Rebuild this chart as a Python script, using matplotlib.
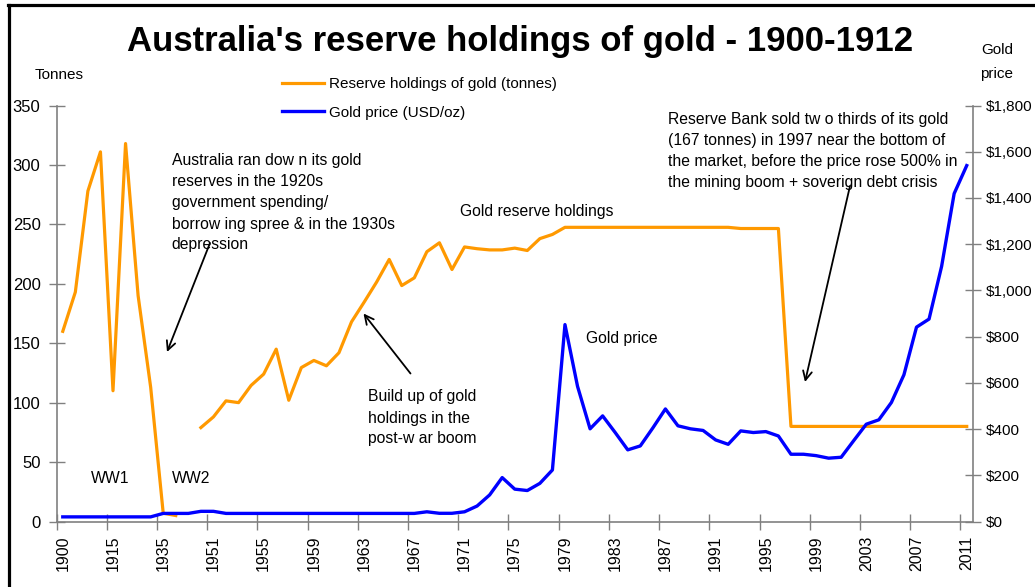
import numpy as np
import matplotlib
matplotlib.use('Agg')
import matplotlib.pyplot as plt
from matplotlib.lines import Line2D
from matplotlib.ticker import FuncFormatter

plt.rcParams['font.family'] = ['Liberation Sans', 'DejaVu Sans']

# ---------------- data ----------------
categories = ['1900', '1904', '1908', '1912', '1915', '1920', '1925', '1930',
              '1935', '1940', '1945', '1950'] + [str(y) for y in range(1951, 2012)]

reserves_tonnes = [160, 193, 278, 311, 110, 318, 190, 113, 7, 5, np.nan, 79,
                   88, 101.5, 100, 114.5, 124, 145, 102, 129.5, 135.5, 131, 142,
                   168, 184.5, 201.5, 220.5, 198.5, 205, 227, 234.5, 212, 231,
                   229.5, 228.5, 228.5, 230, 228, 238, 241.5, 247.5,
                   247.5, 247.5, 247.5, 247.5, 247.5, 247.5, 247.5, 247.5, 247.5,
                   247.5, 247.5, 247.5, 247.5,
                   246.5, 246.5, 246.5, 246.5,
                   80, 80, 80, 80, 80, 80, 80, 80, 80, 80, 80, 80, 80, 80, 80]

gold_price_usd = [20, 20, 20, 20, 20, 20, 20, 20, 35, 35, 35, 44, 44,
                  35, 35, 35, 35, 35, 35, 35, 35, 35, 35, 35, 35, 35, 35, 35, 35,
                  42, 35.5, 35.5, 42, 67, 115, 190, 140, 134, 165, 223, 852,
                  585, 401, 457, 385, 310, 327, 405, 487, 414, 401, 394, 353,
                  334, 392, 385, 389, 370, 291, 291, 285, 274, 278, 350, 421,
                  440, 515, 635, 841, 876, 1104, 1419, 1540]

left_ticks = [0, 50, 100, 150, 200, 250, 300, 350]
right_ticks = [0, 200, 400, 600, 800, 1000, 1200, 1400, 1600, 1800]
label_every = 4

ORANGE = '#FF9900'
BLUE = '#0000FF'
GREY = '#808080'

W, H = 1035, 587
fig = plt.figure(figsize=(W / 100, H / 100), dpi=100)


def fp(x, y):
    """top-left pixel -> figure fraction"""
    return x / W, 1 - y / H


L, R, T, B = 56.5, 973, 105.5, 521.5
ax = fig.add_axes([L / W, 1 - B / H, (R - L) / W, (B - T) / H])
ax2 = ax.twinx()

n = len(categories)
x = np.arange(n)
ax.plot(x, reserves_tonnes, color=ORANGE, lw=2.3, zorder=3)
ax2.plot(x, gold_price_usd, color=BLUE, lw=2.4, zorder=3)

ax.set_xlim(-0.5, n - 0.5)
ax.set_ylim(0, 350)
ax2.set_ylim(0, 1800)
ax.set_yticks(left_ticks)
ax2.set_yticks(right_ticks)
ax2.yaxis.set_major_formatter(FuncFormatter(lambda v, p: '${:,.0f}'.format(v)))

major = np.arange(-0.5, n - 1, label_every)
ax.set_xticks(major)
ax.set_xticklabels([''] * len(major))
ax.set_xticks(np.arange(0, n, label_every), minor=True)
ax.set_xticklabels(categories[::label_every], minor=True, rotation=90,
                   fontsize=11.5)
ax.tick_params(axis='x', which='minor', length=0, pad=10)
ax.tick_params(axis='x', which='major', direction='inout', length=11,
               width=1, color=GREY)
ax.tick_params(axis='y', direction='inout', length=11, width=1, color=GREY,
               labelsize=12, pad=6)
ax2.tick_params(axis='y', direction='inout', length=11, width=1, color=GREY,
                labelsize=11, pad=4)

for a in (ax, ax2):
    a.spines['top'].set_visible(False)
    for s in a.spines.values():
        s.set_color(GREY)
        s.set_linewidth(1.2)
ax.spines['right'].set_visible(False)
ax2.spines['left'].set_visible(False)
ax2.spines['bottom'].set_visible(False)

# title and axis captions
fig.text(*fp(520, 41), "Australia's reserve holdings of gold - 1900-1912",
         ha='center', va='center', fontsize=25, fontweight='bold')
fig.text(*fp(59, 75), 'Tonnes', ha='center', va='center', fontsize=11)
fig.text(*fp(997, 62), 'Gold\nprice', ha='center', va='center', fontsize=11,
         linespacing=1.9)

# legend
handles = [Line2D([], [], color=ORANGE, lw=2.3), Line2D([], [], color=BLUE, lw=2.4)]
fig.legend(handles, ['Reserve holdings of gold (tonnes)', 'Gold price (USD/oz)'],
           loc='upper left', bbox_to_anchor=fp(282, 77), frameon=False,
           fontsize=11, handlelength=2.75, handletextpad=0.3, labelspacing=0.96,
           borderpad=0, borderaxespad=0)

# annotations
txt_kw = dict(ha='left', va='top', fontsize=11.3, linespacing=1.5)
fig.text(*fp(171.5, 153.5), 'Australia ran dow n its gold\nreserves in the 1920s\n'
         'government spending/\nborrow ing spree & in the 1930s\ndepression', **txt_kw)
fig.text(*fp(367.5, 389.5), 'Build up of gold\nholdings in the\npost-w ar boom', **txt_kw)
fig.text(*fp(668, 112), 'Reserve Bank sold tw o thirds of its gold\n'
         '(167 tonnes) in 1997 near the bottom of\n'
         'the market, before the price rose 500% in\n'
         'the mining boom + soverign debt crisis', **txt_kw)
fig.text(*fp(460.5, 204), 'Gold reserve holdings', **txt_kw)
fig.text(*fp(586.5, 331), 'Gold price', **txt_kw)
fig.text(*fp(90.5, 471), 'WW1', **txt_kw)
fig.text(*fp(171.5, 471), 'WW2', **txt_kw)

arrow_kw = dict(arrowstyle='->', color='black', lw=1.3, mutation_scale=16,
                shrinkA=0, shrinkB=0)
for (x0, y0), (x1, y1) in [((210, 243), (167, 352)),
                           ((410.5, 373.5), (363.5, 313.5)),
                           ((850, 186), (805, 382))]:
    fig.add_artist(matplotlib.patches.FancyArrowPatch(
        fp(x0, y0), fp(x1, y1), transform=fig.transFigure, **arrow_kw))

# outer frame (cropped screenshot border)
fig.add_artist(Line2D([fp(8.5, 0)[0]] * 2, [1 - 5 / H, 0], transform=fig.transFigure,
                      color='black', lw=2.3))
fig.add_artist(Line2D([fp(7.5, 0)[0], 1], [1 - 5.3 / H] * 2, transform=fig.transFigure,
                      color='black', lw=2.3))

fig.savefig('out.png', dpi=100)
